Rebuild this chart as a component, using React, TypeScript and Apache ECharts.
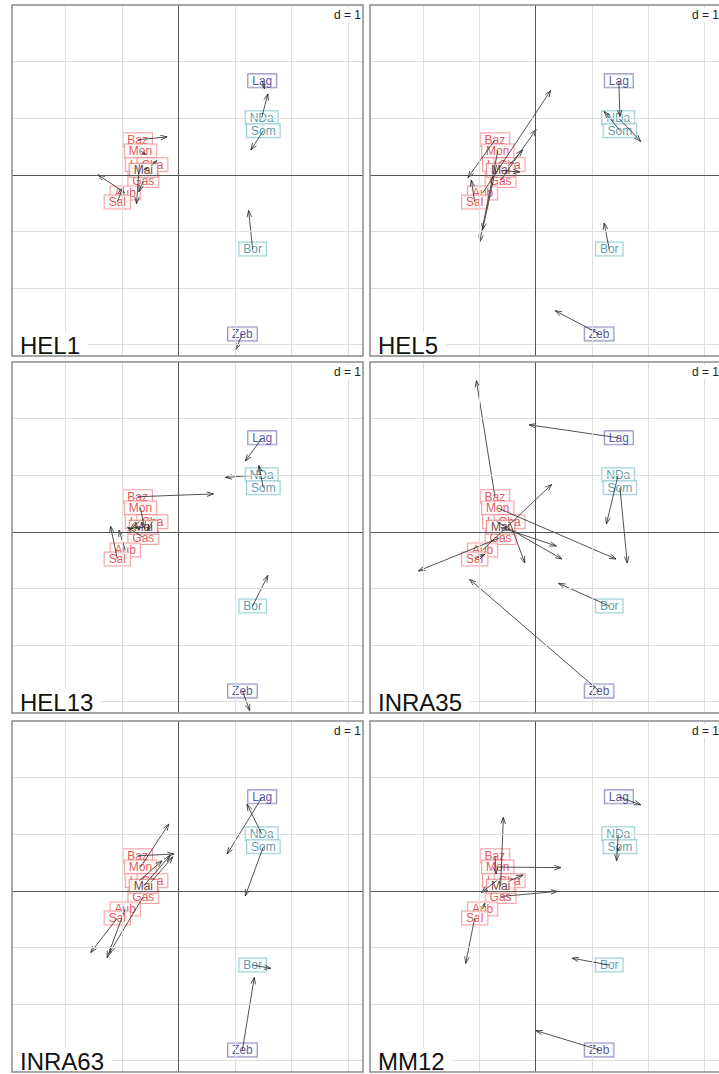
import React, { useEffect, useRef } from "react";
import * as echarts from "echarts";

// ---- data ----
const panelNames = ["HEL1", "HEL5", "HEL13", "INRA35", "INRA63", "MM12"];
const popNames = ["Baz", "Mon", "Lim", "Cha", "Gas", "Mai", "Aub", "Sal", "Lag", "NDa", "Som", "Bor", "Zeb"];
const popGroup = ["fr", "fr", "fr", "fr", "fr", "frDark", "fr", "fr", "navy", "teal", "teal", "teal", "navy"];
const popX = [-0.72, -0.67, -0.69, -0.46, -0.62, -0.62, -0.94, -1.08, 1.48, 1.47, 1.5, 1.31, 1.13];
const popY = [0.62, 0.42, 0.18, 0.18, -0.1, 0.08, -0.32, -0.48, 1.66, 1.01, 0.78, -1.31, -2.81];

// arrow end points per locus, same order as popNames
const endHEL1 = [[-0.2, 0.67], [-0.58, 0.36], [-0.74, -0.51], [-0.38, 0.25], [-0.7, -0.3], [-0.55, 0.12], [-1.42, 0.0], [-0.98, -0.22], [1.52, 1.52], [1.58, 1.43], [1.28, 0.44], [1.24, -0.63], [1.01, -3.09]];
const endHEL5 = [[-1.2, -0.05], [-0.99, -1.18], [-0.94, -0.97], [-0.23, 0.44], [0.01, 0.8], [-0.28, 0.05], [0.27, 1.49], [-1.14, -0.09], [1.5, 1.03], [1.87, 0.59], [1.22, 1.12], [1.22, -0.85], [0.35, -2.4]];
const endHEL13 = [[0.62, 0.67], [-0.6, 0.06], [-0.85, 0.05], [-0.55, 0.02], [-0.9, 0.08], [-0.75, 0.07], [-1.05, 0.03], [-1.2, 0.1], [1.18, 1.25], [0.83, 0.96], [1.42, 1.17], [1.58, -0.77], [1.26, -3.16]];
const endINRA35 = [[-1.05, 2.67], [1.43, -0.48], [0.47, -0.48], [-0.19, -0.55], [-2.08, -0.69], [0.37, -0.25], [0.29, 0.84], [-0.9, -0.4], [-0.11, 1.89], [1.26, 0.14], [1.63, -0.55], [0.41, -0.91], [-1.17, -0.84]];
const endINRA63 = [[-0.08, 0.65], [-0.17, 1.18], [-0.29, 0.53], [-0.1, 0.6], [-1.22, -1.1], [-0.15, 0.62], [-1.26, -1.18], [-1.55, -1.09], [0.86, 0.65], [1.21, 1.53], [1.18, -0.09], [1.63, -1.37], [1.34, -1.53]];
const endMM12 = [[-0.7, 0.3], [0.45, 0.41], [-0.96, -0.03], [-0.22, 0.28], [0.39, -0.01], [-0.57, 1.3], [-0.9, -0.22], [-1.24, -1.28], [1.87, 1.52], [1.44, 0.53], [1.45, 0.7], [0.65, -1.19], [0.01, -2.47]];
const panelEnds = [endHEL1, endHEL5, endHEL13, endINRA35, endINRA63, endMM12];

const xMin = -2.94, xMax = 3.26, yMin = -3.2, yMax = 3.0;
const gridLinesX = [-2, -1, 1, 2, 3];
const gridLinesY = [-3, -2, -1, 1, 2];
const scaleLabel = "d = 1";

// ---- styling / layout ----
const colLeft = [12, 370];
const rowTop = [5, 362, 721];
const SIZE = 351;
const FONT = '"Liberation Sans", Arial, sans-serif';
const groupStyle: Record<string, { color: string; border: string }> = {
  fr: { color: "#e02a2a", border: "#f08c8c" },
  frDark: { color: "#4a1616", border: "#d97a7a" },
  navy: { color: "#2a2a8a", border: "#7070b4" },
  teal: { color: "#2f8496", border: "#80c0ca" },
};

function arrowItem(params: any, api: any) {
  const p0 = api.coord([api.value(0), api.value(1)]);
  const p1 = api.coord([api.value(2), api.value(3)]);
  const dx = p1[0] - p0[0], dy = p1[1] - p0[1];
  const len = Math.hypot(dx, dy);
  if (len < 1) return { type: "group", children: [] };
  const ux = dx / len, uy = dy / len;
  const hl = Math.min(7, len * 0.6), a = 0.33;
  const c = Math.cos(a), s = Math.sin(a);
  const h1 = [p1[0] - hl * (ux * c - uy * s), p1[1] - hl * (uy * c + ux * s)];
  const h2 = [p1[0] - hl * (ux * c + uy * s), p1[1] - hl * (uy * c - ux * s)];
  const st = { stroke: "#262626", lineWidth: 0.8, fill: null };
  return {
    type: "group",
    children: [
      { type: "line", shape: { x1: p0[0], y1: p0[1], x2: p1[0], y2: p1[1] }, style: st },
      { type: "polyline", shape: { points: [h1, p1, h2] }, style: st },
    ],
  };
}

function buildOption() {
  const grid: any[] = [], xAxis: any[] = [], yAxis: any[] = [], series: any[] = [], graphic: any[] = [];
  panelNames.forEach((name, i) => {
    const left = colLeft[i % 2];
    const top = rowTop[Math.floor(i / 2)];
    grid.push({ left, top, width: SIZE, height: SIZE, show: false });
    xAxis.push({ type: "value", gridIndex: i, min: xMin, max: xMax, show: false });
    yAxis.push({ type: "value", gridIndex: i, min: yMin, max: yMax, show: false });
    series.push({
      type: "scatter",
      xAxisIndex: i,
      yAxisIndex: i,
      data: [[0, 0]],
      symbolSize: 0,
      silent: true,
      z: 1,
      markLine: {
        silent: true,
        symbol: ["none", "none"],
        label: { show: false },
        emphasis: { disabled: true },
        lineStyle: { type: "solid", width: 1, color: "#dedede" },
        data: [
          ...gridLinesX.map((v) => ({ xAxis: v })),
          ...gridLinesY.map((v) => ({ yAxis: v })),
          { xAxis: 0, lineStyle: { color: "#555", width: 1, type: "solid" } },
          { yAxis: 0, lineStyle: { color: "#555", width: 1, type: "solid" } },
        ],
      },
    });
    series.push({
      type: "scatter",
      xAxisIndex: i,
      yAxisIndex: i,
      z: 2,
      symbolSize: 1,
      silent: true,
      itemStyle: { color: "rgba(0,0,0,0)" },
      emphasis: { disabled: true },
      label: {
        show: true,
        position: "inside",
        formatter: "{b}",
        fontSize: 12,
        lineHeight: 12,
        fontFamily: FONT,
        backgroundColor: "#fff",
        borderWidth: 1,
        padding: [1, 4, 0, 4],
      },
      data: popNames.map((n, k) => ({
        name: n,
        value: [popX[k], popY[k]],
        label: { color: groupStyle[popGroup[k]].color, borderColor: groupStyle[popGroup[k]].border },
      })),
    });
    series.push({
      type: "custom",
      xAxisIndex: i,
      yAxisIndex: i,
      z: 3,
      silent: true,
      clip: false,
      encode: { x: [0, 2], y: [1, 3] },
      renderItem: arrowItem,
      data: popNames.map((_, k) => [popX[k], popY[k], panelEnds[i][k][0], panelEnds[i][k][1]]),
    });
    graphic.push({
      type: "text",
      x: left + 1,
      y: top + SIZE + 1,
      z: 50,
      silent: true,
      style: {
        text: name,
        font: `24px ${FONT}`,
        fill: "#111",
        backgroundColor: "#fff",
        padding: [1, 8, 0, 7],
        align: "left",
        verticalAlign: "bottom",
      },
    });
    graphic.push({
      type: "text",
      x: left + SIZE - 1,
      y: top + 3,
      z: 50,
      silent: true,
      style: {
        text: scaleLabel,
        font: `12px ${FONT}`,
        fill: "#222",
        backgroundColor: "#fff",
        padding: [1, 1, 1, 3],
        align: "right",
        verticalAlign: "top",
      },
    });
    graphic.push({
      type: "rect",
      z: 100,
      silent: true,
      shape: { x: left, y: top, width: SIZE, height: SIZE },
      style: { fill: "none", stroke: "#8a8a8a", lineWidth: 1.5 },
    });
  });
  return { animation: false, backgroundColor: "#fff", grid, xAxis, yAxis, series, graphic };
}

export default function App() {
  const ref = useRef<HTMLDivElement>(null);
  useEffect(() => {
    if (!ref.current) return;
    const chart = echarts.init(ref.current, undefined, { renderer: "svg" });
    chart.setOption(buildOption() as any);
    return () => chart.dispose();
  }, []);
  return (
    <div
      ref={ref}
      style={{ position: "fixed", left: 0, top: 0, width: 719, height: 1074, background: "#fff" }}
    />
  );
}
